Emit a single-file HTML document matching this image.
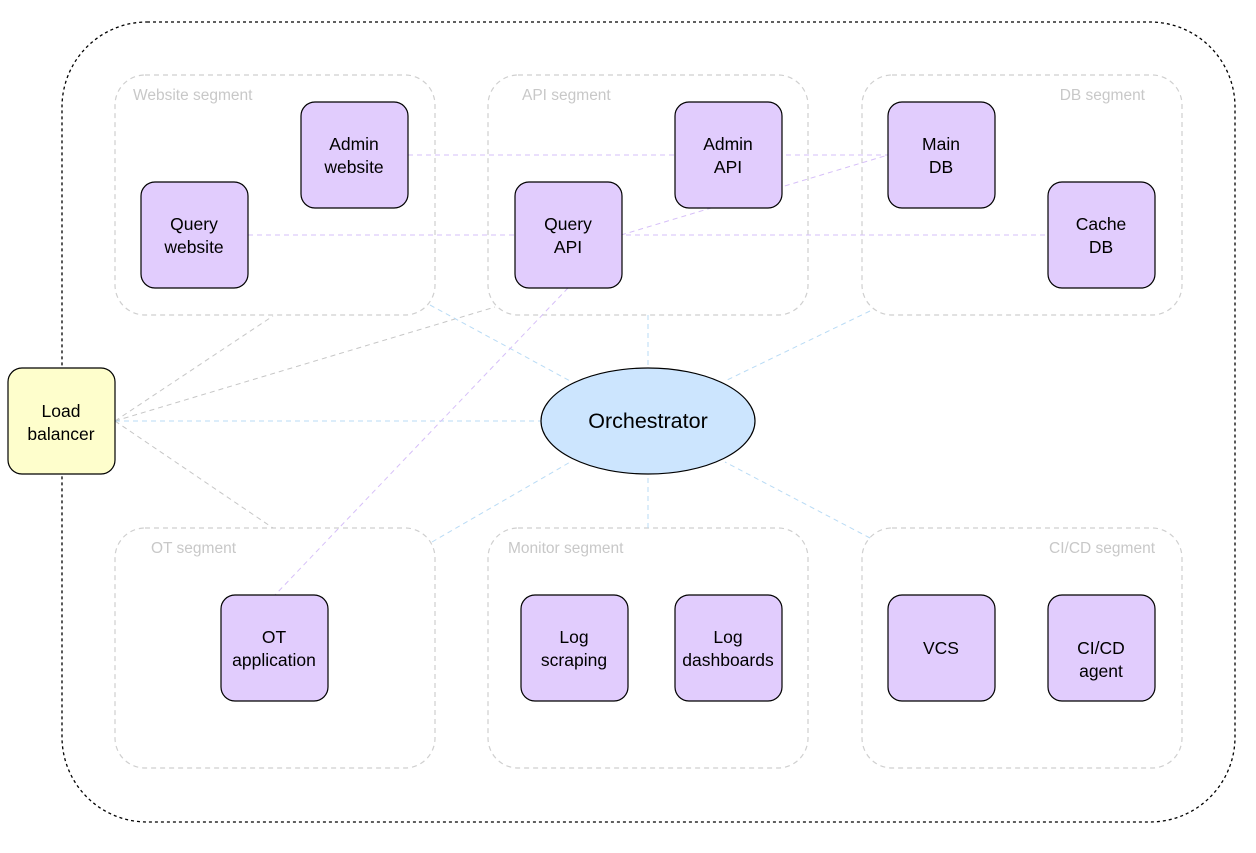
<!DOCTYPE html>
<html><head><meta charset="utf-8"><style>
body{margin:0;background:#fff}
text{font-family:"Liberation Sans",Arial,sans-serif}
</style></head><body>
<svg width="1256" height="848" viewBox="0 0 1256 848" xmlns="http://www.w3.org/2000/svg">
<rect x="62" y="22" width="1173" height="800" rx="85" fill="none" stroke="#000" stroke-width="1.3" stroke-dasharray="3,3"/>
<g fill="none" stroke="#cfcfcf" stroke-width="1.2" stroke-dasharray="5,4">
<rect x="115" y="75" width="320" height="240" rx="30"/>
<rect x="488" y="75" width="320" height="240" rx="30"/>
<rect x="862" y="75" width="320" height="240" rx="30"/>
<rect x="115" y="528" width="320" height="240" rx="30"/>
<rect x="488" y="528" width="320" height="240" rx="30"/>
<rect x="862" y="528" width="320" height="240" rx="30"/>
</g>
<g font-size="15.5" fill="#c8c8c8">
<text x="133" y="100">Website segment</text>
<text x="522" y="100">API segment</text>
<text x="1145" y="100" text-anchor="end">DB segment</text>
<text x="151" y="553">OT segment</text>
<text x="508" y="553">Monitor segment</text>
<text x="1155" y="553" text-anchor="end">CI/CD segment</text>
</g>
<g fill="none" stroke-width="1" stroke-dasharray="5,4">
<g stroke="#c6c6c6">
<line x1="115" y1="421" x2="273" y2="316"/>
<line x1="115" y1="421" x2="495" y2="307"/>
<line x1="115" y1="421" x2="273" y2="528"/>
</g>
<g stroke="#b9dbf5">
<line x1="115" y1="421" x2="541" y2="421"/>
<line x1="430" y1="305" x2="572" y2="382"/>
<line x1="648" y1="315" x2="648" y2="368"/>
<line x1="870" y1="311" x2="725" y2="381"/>
<line x1="432" y1="542" x2="572" y2="461"/>
<line x1="648" y1="528" x2="648" y2="474"/>
<line x1="870" y1="538" x2="725" y2="462"/>
</g>
<g stroke="#d6bff8">
<line x1="408" y1="155" x2="888" y2="155"/>
<line x1="248" y1="235" x2="1048" y2="235"/>
<line x1="621" y1="235" x2="888" y2="155"/>
<line x1="568" y1="288" x2="275" y2="595"/>
</g>
</g>
<g fill="#e1ccfd" stroke="#000" stroke-width="1.2">
<rect x="301" y="102" width="107" height="106" rx="14"/>
<rect x="141" y="182" width="107" height="106" rx="14"/>
<rect x="675" y="102" width="107" height="106" rx="14"/>
<rect x="515" y="182" width="107" height="106" rx="14"/>
<rect x="888" y="102" width="107" height="106" rx="14"/>
<rect x="1048" y="182" width="107" height="106" rx="14"/>
<rect x="221" y="595" width="107" height="106" rx="14"/>
<rect x="521" y="595" width="107" height="106" rx="14"/>
<rect x="675" y="595" width="107" height="106" rx="14"/>
<rect x="888" y="595" width="107" height="106" rx="14"/>
<rect x="1048" y="595" width="107" height="106" rx="14"/>
</g>
<rect x="8" y="368" width="107" height="106" rx="14" fill="#fefecc" stroke="#000" stroke-width="1.2"/>
<ellipse cx="648" cy="421" rx="107" ry="53" fill="#cce5fe" stroke="#000" stroke-width="1.2"/>
<g font-size="17.5" fill="#000" text-anchor="middle">
<text x="354" y="150">Admin</text><text x="354" y="173">website</text>
<text x="194" y="230">Query</text><text x="194" y="253">website</text>
<text x="728" y="150">Admin</text><text x="728" y="173">API</text>
<text x="568" y="230">Query</text><text x="568" y="253">API</text>
<text x="941" y="150">Main</text><text x="941" y="173">DB</text>
<text x="1101" y="230">Cache</text><text x="1101" y="253">DB</text>
<text x="274" y="643">OT</text><text x="274" y="666">application</text>
<text x="574" y="643">Log</text><text x="574" y="666">scraping</text>
<text x="728" y="643">Log</text><text x="728" y="666">dashboards</text>
<text x="941" y="654">VCS</text>
<text x="1101" y="654">CI/CD</text><text x="1101" y="677">agent</text>
<text x="61" y="417">Load</text><text x="61" y="440">balancer</text>
<text x="648" y="428" font-size="21.5">Orchestrator</text>
</g>
</svg>
</body></html>
